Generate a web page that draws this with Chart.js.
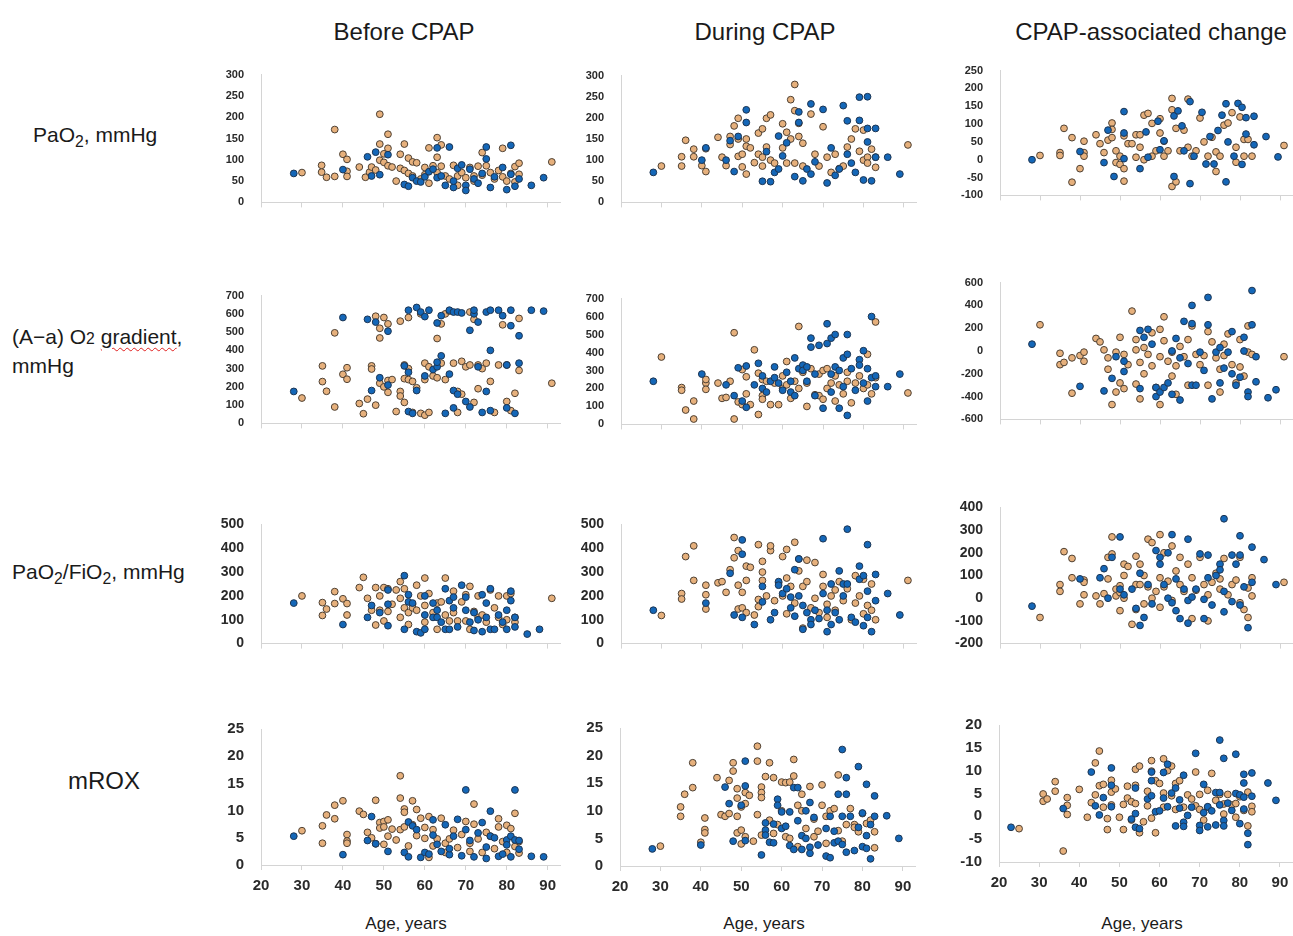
<!DOCTYPE html>
<html>
<head>
<meta charset="utf-8">
<script src="https://cdn.jsdelivr.net/npm/chart.js@4.4.0/dist/chart.umd.min.js"></script>
<style>
  body { margin: 0; width: 1293px; height: 936px; position: relative; overflow: hidden; background: #fff;
         font-family: "Liberation Sans", Arial, sans-serif; color: #1a1a1a; }
  .lbl { position: absolute; white-space: nowrap; line-height: 1; }
  .ctr { transform: translateX(-50%); }
  .panel { position: absolute; }
  .sm { font-size: 0.75em; }
  .wavy { text-decoration: underline wavy #e02020; text-decoration-thickness: 1px; text-underline-offset: 3px; }
</style>
</head>
<body>

<div class="lbl ctr" style="left:404px;top:20px;font-size:24px">Before CPAP</div>
<div class="lbl ctr" style="left:765px;top:20px;font-size:24px">During CPAP</div>
<div class="lbl ctr" style="left:1151px;top:20px;font-size:24px">CPAP-associated change</div>

<div class="lbl" style="left:33px;top:124px;font-size:21px">PaO<sub class="sm">2</sub>, mmHg</div>
<div class="lbl" style="left:12px;top:326px;font-size:21px">(A−a) O<span class="sm">2</span> <span class="wavy">gradient</span>,</div>
<div class="lbl" style="left:12px;top:355px;font-size:21px">mmHg</div>
<div class="lbl" style="left:12px;top:561px;font-size:21px">PaO<sub class="sm">2</sub>/FiO<sub class="sm">2</sub>, mmHg</div>
<div class="lbl" style="left:68px;top:769px;font-size:24px">mROX</div>

<div class="lbl ctr" style="left:406px;top:915px;font-size:17px">Age, years</div>
<div class="lbl ctr" style="left:764px;top:915px;font-size:17px">Age, years</div>
<div class="lbl ctr" style="left:1142px;top:915px;font-size:17px">Age, years</div>

<script>
// x = age (years), y = value; groupA = tan markers, groupB = blue markers

// ---- PaO2, mmHg ----
const beforePaO2A = [[30,70],[34.8,87],[34.8,71],[36,59],[38,171],[38,61],[40,113],[41,101],[41,73],[41,61],[44,83],[45.5,59],[46.5,71],[47,83],[48,76],[49,207],[49,137],[49,99],[50,114],[50,94],[51,160],[51,127],[51,86],[52,83],[53,50],[54,113],[54,80],[55,137],[55,75],[56,104],[56,68],[57,95],[57,62],[58,93],[59,55],[60,82],[60,65],[61,128],[61,45],[62,86],[63,152],[63,106],[63,70],[64,135],[64,85],[65,62],[66,55],[67,87],[68,62],[68,40],[69,70],[70,58],[71,82],[72,50],[72,62],[73,85],[74,117],[74,64],[75,86],[76,70],[77,55],[78,75],[79,127],[79,60],[80,50],[81,68],[82,48],[82,84],[83,92],[83,66],[91,95]];
const beforePaO2B = [[28,68],[40,77],[46,107],[47,62],[48,118],[49,65],[51,112],[55,42],[56,38],[57,58],[58,50],[59,48],[60,60],[61,72],[62,78],[63,128],[63,58],[64,62],[65,40],[66,130],[67,35],[67,50],[68,80],[69,88],[70,40],[70,28],[71,78],[72,55],[73,45],[74,68],[75,102],[75,130],[76,35],[77,60],[79,82],[80,30],[81,134],[81,66],[82,38],[83,55],[86,40],[89,58]];
const duringPaO2A = [[30,86],[35,108],[35,86],[36,147],[38,126],[38,108],[40,87],[41,73],[41,127],[44,154],[45,107],[46,87],[47,156],[47,137],[48,181],[49,199],[49,150],[49,109],[50,114],[50,84],[51,150],[51,133],[51,67],[52,129],[53,94],[54,164],[54,114],[55,174],[55,107],[55,86],[56,199],[56,131],[57,207],[57,100],[58,93],[60,186],[60,129],[61,166],[61,93],[62,150],[62,243],[63,279],[63,217],[63,93],[64,187],[64,156],[65,140],[65,86],[67,209],[68,114],[69,86],[70,179],[71,107],[72,71],[73,114],[74,80],[75,86],[76,131],[77,150],[78,174],[79,121],[80,171],[80,100],[81,107],[81,93],[82,126],[83,107],[83,83],[91,136]];
const duringPaO2B = [[28,71],[40,100],[41,129],[46,100],[47,146],[48,73],[49,156],[51,219],[51,189],[55,50],[56,120],[57,49],[58,71],[59,157],[59,79],[60,110],[61,141],[63,61],[64,214],[64,189],[65,51],[66,79],[67,233],[67,67],[68,96],[70,220],[71,46],[72,129],[73,64],[74,79],[75,229],[76,193],[76,114],[77,93],[78,71],[79,249],[79,194],[80,53],[81,250],[81,175],[81,143],[82,51],[83,175],[83,107],[86,107],[89,67]];
const changePaO2A = [[30,12],[35,20],[35,12],[36,88],[38,62],[38,-63],[40,-25],[41,52],[41,20],[41,10],[44,70],[45,45],[46,20],[47,55],[48,103],[48,85],[48,62],[49,25],[49,-8],[50,10],[50,-13],[51,67],[51,-25],[51,-60],[52,45],[53,45],[54,70],[54,7],[55,70],[55,35],[56,125],[56,0],[57,130],[58,102],[58,10],[59,25],[60,115],[60,75],[61,52],[61,10],[62,25],[63,172],[63,140],[63,-75],[64,88],[64,-62],[65,25],[66,83],[67,170],[67,35],[68,10],[69,25],[70,117],[71,50],[72,10],[73,63],[74,22],[74,-33],[75,10],[76,97],[77,103],[78,132],[79,35],[79,-7],[80,120],[81,57],[81,10],[82,57],[83,10],[91,40]];
const changePaO2B = [[28,0],[40,23],[46,-8],[47,83],[48.5,-47],[51,135],[51,75],[51,3],[55,-25],[56.5,78],[57,7],[59.5,108],[60,28],[61,53],[63.5,123],[64.5,137],[63.5,-47],[65.5,95],[66,25],[67.5,163],[67.5,-67],[68.5,10],[70.5,133],[71.5,-12],[72.5,65],[73.5,-12],[74.5,82],[75.5,125],[76.5,157],[76.5,-62],[77,50],[78.5,10],[79.5,158],[80.5,147],[80.5,-13],[81.5,118],[81.5,72],[83.5,122],[83.5,42],[86.5,65],[89.5,8]];

// ---- (A-a) O2 gradient, mmHg ----
const beforeGradA = [[30,139],[35,315],[35,229],[36,176],[38,90],[38,496],[40,269],[41,305],[41,242],[44,109],[45,53],[46,133],[47,315],[47,298],[48,100],[48,587],[49,521],[49,468],[49,220],[50,200],[50,580],[51,545],[51,170],[51,235],[52,240],[53,65],[54,560],[54,175],[54,150],[55,115],[55,320],[55,245],[56,580],[56,240],[56,300],[57,230],[57,60],[58,195],[59,600],[59,55],[60,330],[60,240],[60,45],[61,310],[61,60],[62,260],[63,465],[63,250],[64,545],[64,330],[65,600],[65,240],[66,615],[67,330],[68,60],[68,175],[69,340],[69,160],[70,310],[71,610],[71,320],[72,115],[72,570],[73,190],[73,320],[74,300],[75,330],[76,230],[77,60],[78,320],[79,540],[80,320],[80,120],[81,70],[82,165],[83,290],[83,575],[91,220]];
const beforeGradB = [[28,175],[40,580],[46,570],[47,180],[48,555],[49,250],[51,505],[51,210],[55,315],[56,620],[56,280],[56,65],[57,55],[58,635],[58,180],[59,610],[60,585],[60,260],[61,620],[62,295],[63,550],[63,310],[63,335],[64,370],[64,590],[65,55],[66,620],[66,270],[67,610],[67,85],[67,180],[68,610],[68,160],[69,605],[70,120],[71,510],[71,90],[72,600],[72,620],[73,555],[73,310],[74,60],[75,610],[75,175],[76,400],[76,620],[76,70],[78,620],[79,590],[80,320],[80,85],[81,620],[81,535],[82,55],[83,480],[83,330],[86,620],[89,615]];
const duringGradA = [[30,375],[35,205],[35,190],[36,80],[38,130],[38,30],[41,230],[41,250],[41,195],[44,230],[45,145],[46,150],[47,240],[48,510],[48,30],[49,125],[50,305],[50,110],[51,265],[51,170],[52,110],[53,415],[54,285],[54,55],[55,250],[55,160],[55,140],[56,240],[57,110],[58,230],[59,110],[60,270],[60,200],[61,350],[61,220],[62,145],[63,240],[64,545],[64,200],[65,290],[66,100],[66,230],[67,310],[68,165],[69,280],[69,160],[70,140],[70,300],[71,310],[71,200],[72,230],[73,270],[73,130],[74,220],[75,170],[76,290],[76,240],[77,120],[78,230],[79,270],[80,200],[81,390],[81,220],[82,170],[83,570],[83,260],[91,175]];
const duringGradB = [[28,240],[40,280],[46,220],[48,160],[49,315],[50,130],[51,95],[51,325],[53,220],[54,340],[55,270],[55,200],[56,180],[57,240],[58,320],[58,260],[59,230],[60,190],[61,290],[62,240],[62,180],[63,370],[63,160],[64,310],[65,330],[65,300],[66,320],[66,240],[67,430],[67,480],[68,280],[68,160],[69,440],[70,90],[71,450],[71,560],[72,280],[72,480],[72,180],[73,500],[73,320],[74,300],[74,90],[75,370],[75,210],[76,500],[76,390],[76,50],[77,310],[78,190],[79,360],[79,330],[80,410],[80,230],[81,310],[81,130],[82,260],[82,600],[83,270],[83,210],[86,210],[89,280]];
const changeGradA = [[30,230],[35,-20],[35,-120],[36,-100],[38,-60],[38,-370],[40,-40],[41,-10],[41,-90],[44,110],[45,80],[46,10],[47,-60],[47,-160],[48,-470],[49,-360],[49,-10],[50,120],[50,-280],[51,-30],[51,-330],[52,-120],[53,350],[54,100],[54,10],[54,-290],[55,-420],[55,-100],[56,30],[56,-200],[57,-30],[58,160],[58,-130],[59,-320],[60,190],[60,-50],[60,-470],[61,300],[61,90],[62,-90],[63,-10],[63,-220],[64,-130],[64,-380],[65,40],[66,-50],[67,100],[67,-300],[68,220],[69,-30],[70,-120],[71,-40],[72,-300],[72,170],[73,80],[74,-60],[75,-160],[75,-360],[76,-40],[76,60],[77,150],[78,-120],[79,-280],[80,100],[80,-140],[81,-220],[82,220],[82,-10],[83,-30],[91,-50]];
const changeGradB = [[28,60],[40,-310],[46,-350],[48,-240],[49,-50],[51,-180],[51,-90],[55,-330],[55,180],[56,120],[57,190],[58,60],[59,-320],[59,-400],[60,-360],[61,-320],[62,-280],[63,0],[63,-380],[64,110],[65,-60],[65,-430],[66,260],[67,-110],[68,-300],[68,400],[68,240],[69,-300],[70,-10],[71,-170],[72,470],[72,230],[73,-420],[74,-10],[75,-280],[75,30],[76,-150],[77,-10],[78,170],[78,-200],[79,-300],[80,-230],[81,0],[81,120],[82,-360],[82,-400],[83,530],[83,230],[84,-50],[84,-270],[87,-410],[89,-340]];

// ---- PaO2/FiO2, mmHg ----
const beforePFA = [[30,200],[35,172],[35,118],[36,145],[38,218],[38,168],[40,188],[41,168],[41,120],[44,235],[45,278],[46,190],[47,140],[48,235],[48,78],[49,200],[49,140],[50,95],[50,235],[51,230],[51,135],[52,165],[53,225],[54,260],[54,190],[54,110],[55,230],[55,150],[56,80],[56,130],[57,165],[57,150],[58,245],[58,140],[59,200],[60,275],[60,160],[60,90],[61,210],[62,130],[63,170],[63,60],[64,175],[65,275],[65,120],[66,95],[67,220],[67,130],[68,95],[69,175],[70,205],[70,95],[71,240],[71,60],[72,135],[73,200],[73,110],[74,120],[75,90],[76,225],[77,150],[78,200],[78,110],[79,80],[80,200],[80,100],[81,210],[82,110],[82,90],[91,190]];
const beforePFB = [[28,170],[40,80],[46,110],[47,160],[49,130],[51,225],[51,75],[51,165],[55,285],[55,60],[56,175],[56,205],[57,170],[58,50],[59,45],[60,200],[60,120],[60,60],[62,110],[62,170],[63,110],[63,140],[64,90],[65,230],[65,60],[66,180],[66,60],[67,150],[67,195],[68,70],[69,245],[70,195],[70,140],[71,90],[72,55],[72,130],[73,100],[74,205],[74,50],[75,170],[75,110],[76,230],[76,60],[77,60],[78,120],[79,90],[80,140],[80,60],[81,220],[81,180],[82,70],[82,110],[85,40],[88,60]];
const duringPFA = [[30,118],[35,210],[35,187],[36,365],[38,410],[38,265],[41,245],[41,205],[41,145],[44,255],[45,260],[46,215],[47,310],[48,445],[48,360],[49,390],[49,245],[49,145],[50,215],[50,150],[51,325],[51,265],[51,130],[52,320],[53,120],[54,415],[54,185],[54,155],[55,345],[55,300],[55,265],[56,200],[57,390],[57,410],[58,180],[59,255],[60,365],[60,200],[61,395],[61,275],[61,125],[62,240],[63,425],[63,170],[64,355],[64,305],[65,240],[65,65],[66,350],[66,260],[67,150],[68,340],[68,190],[69,130],[70,290],[70,240],[71,110],[71,165],[72,200],[73,225],[73,140],[74,260],[75,180],[76,230],[77,100],[78,170],[78,285],[79,200],[80,270],[80,125],[81,160],[82,250],[82,140],[83,100],[91,265]];
const duringPFB = [[28,140],[41,170],[47,295],[48,120],[50,435],[50,375],[50,110],[53,80],[55,240],[55,175],[57,100],[58,130],[59,260],[59,245],[60,210],[61,230],[62,150],[62,195],[63,310],[63,115],[64,355],[64,200],[65,160],[65,60],[66,130],[67,100],[67,80],[68,140],[69,105],[70,440],[70,210],[71,50],[71,140],[72,80],[72,250],[73,130],[74,305],[74,100],[75,250],[75,200],[76,480],[76,250],[77,110],[78,90],[79,325],[79,270],[80,75],[80,285],[81,415],[81,220],[81,110],[82,50],[83,290],[83,180],[86,210],[89,120]];
const changePFA = [[30,-85],[35,60],[35,30],[36,205],[38,90],[38,175],[40,-25],[41,80],[41,70],[41,15],[44,10],[45,-25],[46,20],[47,180],[47,85],[48,270],[48,195],[49,40],[49,10],[50,25],[50,-55],[50,55],[51,150],[51,100],[51,0],[52,140],[53,-115],[54,185],[54,60],[54,-50],[55,150],[55,60],[56,100],[56,-25],[57,260],[57,50],[58,245],[58,0],[59,30],[60,280],[60,90],[60,-40],[61,200],[61,50],[62,75],[63,230],[63,-10],[64,120],[65,180],[65,60],[66,30],[67,150],[68,90],[68,-90],[69,35],[70,180],[71,60],[72,-100],[72,15],[73,70],[74,110],[75,85],[75,40],[76,175],[77,15],[78,60],[79,80],[80,180],[80,-20],[81,-50],[82,45],[82,-85],[83,90],[83,10],[91,70]];
const changePFB = [[28,-35],[40,85],[45,90],[46,130],[47,0],[48,180],[50,270],[50,40],[51,15],[53,40],[54,-45],[55,-120],[55,110],[56,-85],[57,60],[58,-25],[59,210],[60,150],[60,180],[61,60],[62,200],[62,0],[63,280],[63,-20],[64,-55],[64,85],[65,-90],[66,40],[67,260],[67,-110],[67,-10],[68,5],[69,40],[70,195],[71,-5],[71,-90],[72,190],[72,90],[73,-30],[74,100],[75,150],[75,125],[76,-60],[76,30],[76,350],[78,190],[78,-15],[79,150],[80,275],[80,190],[80,-30],[81,50],[82,-130],[83,225],[83,70],[86,170],[89,60]];

// ---- mROX ----
const beforeRoxA = [[30,6.3],[35,7.2],[35,4],[36,9.2],[38,11],[38,8.5],[40,11.8],[41,5.6],[41,4.4],[41,4],[44,9.9],[45,9.3],[46,6],[47,5],[48,11.9],[48,3.9],[49,7.8],[49,6.8],[50,8],[50,3.8],[50,7],[51,8.3],[51,5.3],[52,6.6],[53,4.6],[54,16.4],[54,12.3],[54,6.5],[55,10.3],[55,9.7],[55,7],[56,3.5],[57,11.8],[57,7.4],[58,10.2],[58,5.4],[59,8.6],[60,6.9],[60,4.9],[61,8.9],[61,1.4],[62,6.5],[62,3.5],[63,4.8],[64,8.6],[65,4],[65,2.3],[66,4.8],[67,6.4],[68,3.2],[69,5.6],[70,8],[71,4],[71,2.5],[72,11.2],[72,7.5],[73,4.8],[74,2.3],[75,6],[76,5.3],[77,3],[78,8.5],[78,7],[79,4.3],[80,7.3],[80,2.3],[81,6.7],[82,9.5],[82,3.4],[83,4.3],[83,2.2]];
const beforeRoxB = [[28,5.3],[40,1.9],[46,4.5],[47,8.9],[48,3.9],[51,2.5],[55,2.3],[56,7.9],[56,1.5],[57,7.2],[58,6.5],[59,1.4],[60,2.3],[61,2],[62,8.3],[62,5.5],[63,3.8],[64,2.5],[65,7.4],[66,1.9],[66,3],[67,5.3],[68,8.4],[69,1.7],[70,13.8],[70,6.5],[71,4.5],[72,1.5],[73,5.9],[74,7.8],[75,3.3],[75,1.2],[76,9.9],[76,5.3],[77,5],[78,1.6],[79,2],[80,4.6],[80,3.7],[81,5.3],[81,1.5],[82,13.8],[82,4.6],[83,4.5],[83,2.9],[86,1.6],[89,1.5]];
const duringRoxA = [[30,3.6],[35,10.7],[35,9],[36,13],[38,18.7],[38,14.2],[40,4.3],[41,8.7],[41,6.6],[41,6],[44,16],[45,9.3],[46,9],[47,15.5],[47,9.5],[48,18.7],[48,17.2],[49,14],[49,12.3],[49,9],[49,6],[50,10.7],[50,6.5],[50,4],[51,13.3],[51,11.3],[51,5.3],[52,12.8],[53,4.5],[54,21.7],[54,19],[54,9.3],[55,14.3],[55,13.3],[55,12.4],[55,5.6],[56,16.2],[57,18.7],[57,8.3],[58,16],[58,5.9],[59,7.5],[60,15.2],[60,10],[61,15.1],[61,5.3],[62,15.2],[62,5],[63,19.3],[63,16.3],[64,11],[64,3.5],[65,13],[65,10],[66,6.8],[67,14.4],[68,8.5],[68,5.3],[69,6.3],[70,14.7],[70,11],[71,9],[71,4.1],[72,10],[73,10.4],[74,6.4],[74,16.5],[75,4.5],[76,7.5],[77,10.4],[78,7.5],[78,7],[79,6.2],[80,9.5],[81,7.7],[82,8.3],[83,6.2],[83,3.3]];
const duringRoxB = [[28,3.1],[40,3.8],[46,14.3],[47,11.3],[48,4.5],[50,11],[51,19],[51,14.5],[51,4.6],[55,2],[56,7.8],[56,6.5],[56,5.6],[57,4.3],[58,7.6],[58,4.2],[59,12.1],[59,11],[60,9.8],[60,6.8],[61,7.2],[62,9.8],[62,3.7],[63,14.2],[63,3],[64,14.2],[64,8.2],[65,5.5],[65,3],[66,10],[66,5],[67,11.5],[67,3.4],[67,2.3],[68,8.8],[69,3.8],[71,6.8],[71,1.8],[72,1.5],[72,9],[73,4.2],[73,6.3],[74,13],[74,4.5],[75,21.1],[75,9],[75,3.9],[76,16],[76,13],[76,2.5],[77,9],[78,2.8],[79,18],[79,7],[80,3.5],[80,9.6],[81,14.8],[81,5.5],[81,3.2],[82,1.3],[82,7.5],[83,12.7],[83,9],[86,9.1],[89,5]];
const changeRoxA = [[25,-2.7],[31,4.9],[31,3.3],[32,3.8],[34,7.6],[34,5.5],[36,-7.6],[37,4.1],[37,2.4],[37,0.4],[40,5.9],[42,-0.2],[43,3],[44,11.7],[44,4.7],[45,14.3],[45,6.7],[46,7],[46,2],[47,-0.5],[47,-2.9],[48,7.9],[48,5.3],[48,2.5],[49,6],[50,-0.2],[51,2.6],[51,-2.9],[52,6.6],[52,4],[53,3.2],[53,-0.8],[54,10.3],[54,6.8],[54,2.8],[55,11],[55,-3.6],[56,-1.2],[57,5.5],[57,2.3],[58,12.2],[58,9.9],[58,-0.4],[59,7.8],[59,-3.6],[60,7.2],[61,12.6],[61,5.1],[61,2],[62,10],[63,4.5],[63,11],[64,1.5],[64,7.2],[65,7.8],[66,2],[67,4.7],[68,3.8],[69,9.7],[69,2.3],[70,4.8],[70,1.5],[71,-0.8],[72,5.7],[72,2],[73,9.4],[74,3.5],[75,4.8],[76,0.5],[76,2.7],[77,4.8],[78,2.5],[79,2.8],[79,-0.2],[80,4.3],[81,1.3],[82,5.3],[82,-2.1],[83,2.2],[83,1]];
const changeRoxB = [[23,-2.4],[36,1.7],[43,9.7],[44,2.3],[45,0.3],[46,4.1],[48,10.6],[48,6.8],[48,2.1],[53,-0.6],[54,6.2],[54,0.6],[54,-2.4],[55,-2.7],[57,3.8],[58,9.7],[58,4.5],[58,7.8],[59,1],[60,1.2],[61,4],[61,9.6],[62,2.1],[62,11.4],[63,5.1],[64,-2.1],[64,6.2],[65,3.6],[65,1.8],[66,9],[66,-1.3],[66,-2.2],[67,0.2],[68,2],[69,13.8],[70,-2],[70,-3.1],[71,7],[71,0.8],[72,2.1],[72,-2.3],[73,1.2],[74,5.2],[74,-1.9],[75,16.7],[75,5.2],[75,2.5],[76,12.7],[76,-0.9],[76,-2.1],[77,2.9],[78,1.3],[79,13.6],[79,5],[80,4.7],[80,-1.6],[81,4.2],[81,9.2],[81,7.3],[81,1.6],[82,-3.7],[82,-6.2],[83,9.5],[83,4.4],[87,7.3],[89,3.5]];

// y axis ranges [min, max, step]
const yPaO2 = [0, 300, 50],   yPaO2Chg = [-100, 250, 50];
const yGrad = [0, 700, 100],  yGradChg = [-600, 600, 200];
const yPF   = [0, 500, 100],  yPFChg   = [-200, 400, 100];
const yRox  = [0, 25, 5],     yRoxChg  = [-10, 20, 5];
const ageRange = [20, 93];
const ageTicks = [20, 30, 40, 50, 60, 70, 80, 90];

const TAN = '#e6b07c', BLUE = '#1467b8';
const AXIS = '#d4d4d4', TICK = '#2a2a2a';

const stepTicks = yr => {
  const out = [];
  for (let v = yr[0]; v <= yr[1]; v += yr[2]) out.push({ value: v });
  return out;
};

// plot area boxes: left, top, right, bottom (px)
function panel(box, yr, a, b, row) {
  const padL = 52, padT = 10, padR = 4;
  const last = row === 3;
  const axisH = last ? 34 : 8;
  const fs = [11, 11, 14, 15][row];
  const div = document.createElement('div');
  div.className = 'panel';
  const w = box[2] - box[0] + padL + padR, h = box[3] - box[1] + padT + axisH;
  div.style.cssText = `left:${box[0]-padL}px;top:${box[1]-padT}px;width:${w}px;height:${h}px`;
  const cv = document.createElement('canvas');
  cv.width = w; cv.height = h;
  div.appendChild(cv);
  document.body.appendChild(div);
  const pts = arr => arr.map(p => ({ x: p[0], y: p[1] }));
  const ds = (arr, fill, edge) => ({ data: pts(arr), backgroundColor: fill, borderColor: edge,
    borderWidth: 1, pointRadius: 3.4, clip: false });
  new Chart(cv, {
    type: 'scatter',
    data: { datasets: [ds(b, BLUE, '#1d3552'), ds(a, TAN, '#4d4033')] },
    options: {
      responsive: false, animation: false,
      layout: { padding: { top: padT, right: padR, left: 0, bottom: 0 }, autoPadding: false },
      plugins: { legend: { display: false }, tooltip: { enabled: false } },
      scales: {
        x: {
          type: 'linear', min: ageRange[0], max: ageRange[1],
          afterBuildTicks: s => { s.ticks = ageTicks.map(v => ({ value: v })); },
          afterFit: s => { s.height = axisH; },
          grid: { drawOnChartArea: false, drawTicks: true, tickLength: 5, color: AXIS },
          border: { color: AXIS },
          ticks: { display: last, color: TICK, padding: 7,
                   font: { family: 'Liberation Sans', size: 15, weight: 'bold' } }
        },
        y: {
          min: yr[0], max: yr[1],
          afterBuildTicks: s => { s.ticks = stepTicks(yr); },
          afterFit: s => { s.width = padL; },
          grid: { display: false },
          border: { color: AXIS },
          ticks: { color: TICK, padding: 9,
                   font: { family: 'Liberation Sans', size: fs, weight: 'bold' } }
        }
      }
    }
  });
}

panel([261, 69, 560, 210], yPaO2, beforePaO2A, beforePaO2B, 0);
panel([621, 70, 916, 210], yPaO2, duringPaO2A, duringPaO2B, 0);
panel([1000, 65, 1292, 203], yPaO2Chg, changePaO2A, changePaO2B, 0);

panel([261, 290, 560, 431], yGrad, beforeGradA, beforeGradB, 1);
panel([621, 293, 916, 432], yGrad, duringGradA, duringGradB, 1);
panel([1000, 277, 1292, 427], yGradChg, changeGradA, changeGradB, 1);

panel([261, 517, 560, 653], yPF, beforePFA, beforePFB, 2);
panel([621, 517, 916, 653], yPF, duringPFA, duringPFB, 2);
panel([1000, 500, 1292, 653], yPFChg, changePFA, changePFB, 2);

panel([261, 721, 560, 865], yRox, beforeRoxA, beforeRoxB, 3);
panel([620, 720, 915, 866], yRox, duringRoxA, duringRoxB, 3);
panel([999, 717, 1292, 862], yRoxChg, changeRoxA, changeRoxB, 3);
</script>
</body>
</html>
